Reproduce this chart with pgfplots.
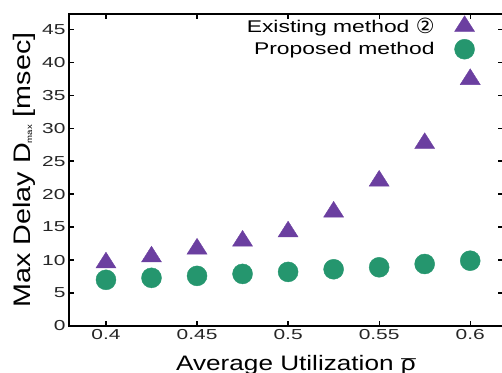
\documentclass[border=0pt]{standalone}
\usepackage{fontspec}
\setmainfont{Liberation Sans}[FakeStretch=1.25]
\newfontfamily\tickfont{Liberation Sans}[FakeStretch=1.45]
\newfontfamily\legfont{Liberation Sans}[FakeStretch=1.35]
\newfontfamily\ylabfont{Liberation Sans}[FakeStretch=1.2]
\newfontfamily\dejavu{DejaVu Sans}
\usepackage{pgfplots}
\pgfplotsset{compat=1.18}
\definecolor{purp}{HTML}{6B3FA0}
\definecolor{grn}{HTML}{25966E}
\newcommand{\rhobar}{\rlap{\raisebox{-0.17em}{\hspace{0.02em}¯}}ρ}
\pgfplotsset{farmark/.style={legend image code/.code={\path[draw=none,fill=none] (0bp,0bp) -- (28bp,0bp); \draw plot coordinates {(28bp,0bp)};}}}
\begin{document}
\begin{tikzpicture}
\begin{axis}[
  name=ax,
  scale only axis,
  width=434bp, height=312bp,
  xmin=0.3797, xmax=0.618,
  ymin=0, ymax=47.3,
  xtick={0.4,0.45,0.5,0.55,0.6},
  xticklabels={0.4,0.45,0.5,0.55,0.6},
  ytick={0,5,...,45},
  tick align=inside,
  major tick length=5bp,
  tick style={black, line width=1.2bp},
  axis line style={black, line width=1.5bp},
  /pgf/number format/assume math mode=true,
  tick label style={font=\tickfont\fontsize{14.5}{16}\selectfont, text=black!85},
  xlabel={Average Utilization \rhobar},
  ylabel={Max Delay D{\fontsize{8}{8}\selectfont\raisebox{-2bp}{max}} [msec]},
  xlabel style={font=\fontsize{21}{24}\selectfont, at={(axis description cs:0.523,0)}, anchor=north, yshift=-26bp},
  ylabel style={font=\ylabfont\fontsize{24}{26}\selectfont, at={(axis description cs:-0.104,0.5)}, anchor=center},
  legend cell align=right,
  legend plot pos=right,
  legend style={draw=none, fill=none, at={(axis description cs:0.935,0.995)}, anchor=north east,
    font=\legfont\fontsize{17}{19}\selectfont, row sep=3bp, inner sep=0bp},
]
\addplot[only marks, farmark, mark=triangle*, mark size=10.5bp, color=purp, mark options={xscale=1.1}] coordinates {
(0.4,9.6) (0.425,10.5) (0.45,11.7) (0.475,12.9) (0.5,14.3) (0.525,17.3) (0.55,22.0) (0.575,27.7) (0.6,37.4)
};
\addlegendentry{Existing method {\dejavu\fontsize{21}{19}\selectfont\raisebox{-1bp}{②}}}
\addplot[only marks, farmark, mark=*, mark size=10bp, color=grn] coordinates {
(0.4,7.0) (0.425,7.3) (0.45,7.6) (0.475,7.9) (0.5,8.2) (0.525,8.6) (0.55,8.9) (0.575,9.4) (0.6,9.9)
};
\addlegendentry{Proposed method}
\end{axis}
\pgfresetboundingbox
\useasboundingbox ([xshift=-69bp,yshift=-47bp]ax.south west) rectangle ([xshift=-1bp,yshift=14bp]ax.north east);
\end{tikzpicture}
\end{document}
